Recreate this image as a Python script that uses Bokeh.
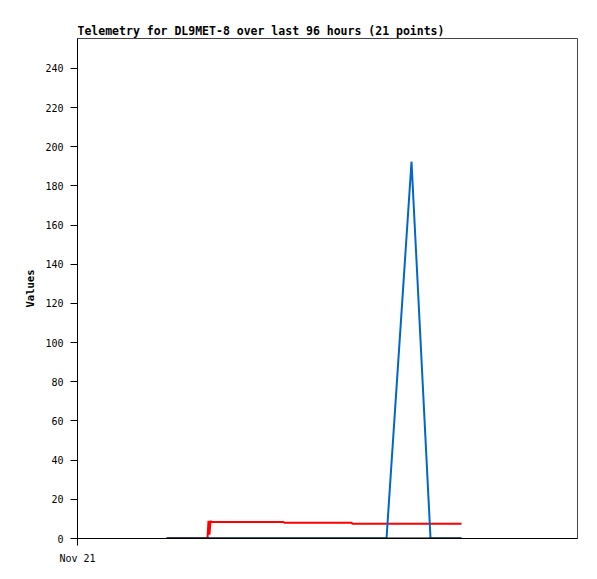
from bokeh.plotting import figure
from bokeh.models import Range1d, FixedTicker
from bokeh.embed import file_html
from bokeh.resources import INLINE

# hours after Nov 21 00:00
black_t = [17.09, 73.73]
black_v = [0, 0]

red_t = [17.09, 24.96, 25.15, 25.34, 25.54, 25.73, 39.55, 39.74, 52.61, 52.80, 73.73]
red_v = [0, 0, 9.0, 2.0, 9.0, 8.4, 8.4, 8.0, 8.0, 7.5, 7.5]

blue_t = [17.09, 59.33, 64.13, 67.78, 73.73]
blue_v = [0, 0, 192.4, 0, 0]

y_ticks = list(range(0, 241, 20))
x_ticks = [0]
x_labels = {0: "Nov 21"}

FONT = "DejaVu Sans Mono"

p = figure(width=589, height=571, output_backend="svg", toolbar_location=None,
           x_range=Range1d(0, 96), y_range=Range1d(0, 255.3),
           min_border_left=77, min_border_right=12, min_border_top=38, min_border_bottom=33,
           title="Telemetry for DL9MET-8 over last 96 hours (21 points)")

p.title.text_font = FONT
p.title.text_font_size = "11.5px"
p.title.text_font_style = "bold"
p.title.text_color = "black"
p.title.align = "left"
p.title.standoff = 2
p.title.offset = 0

p.grid.visible = False
p.outline_line_color = "#444444"
p.outline_line_width = 1
p.background_fill_color = "white"
p.border_fill_color = "white"

p.line(red_t, red_v, line_color="#ff0000", line_width=2)
p.line(blue_t, blue_v, line_color="#0066cc", line_width=2)
p.line(black_t, black_v, line_color="black", line_width=2)

p.yaxis.ticker = FixedTicker(ticks=y_ticks)
p.xaxis.ticker = FixedTicker(ticks=x_ticks)
p.xaxis.major_label_overrides = x_labels

for ax in (p.xaxis[0], p.yaxis[0]):
    ax.axis_line_color = "black"
    ax.major_tick_line_color = "black"
    ax.major_tick_in = 0
    ax.major_tick_out = 7
    ax.minor_tick_line_color = None
    ax.major_label_text_font = FONT
    ax.major_label_text_font_size = "10px"
    ax.major_label_text_color = "black"
    ax.major_label_standoff = 7

p.yaxis.axis_label = "Values"
p.yaxis.axis_label_text_font = FONT
p.yaxis.axis_label_text_font_size = "10.5px"
p.yaxis.axis_label_text_font_style = "bold"
p.yaxis.axis_label_text_color = "black"
p.yaxis.axis_label_standoff = 6

open("out.html", "w").write(file_html(p, INLINE))
